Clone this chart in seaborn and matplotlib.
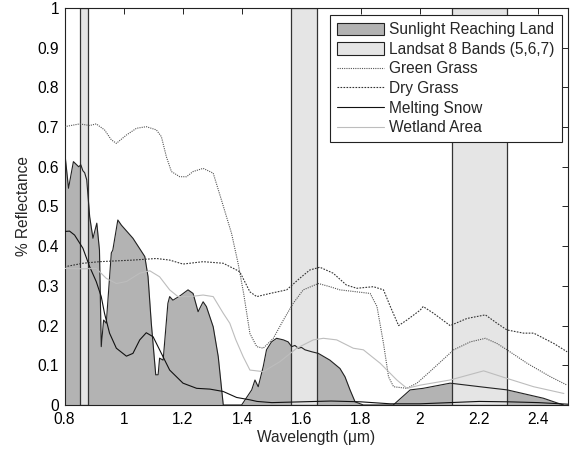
import matplotlib
matplotlib.use("Agg")
import matplotlib.pyplot as plt
import seaborn as sns
import pandas as pd
from matplotlib.patches import Patch
from matplotlib.lines import Line2D

# ---------------- data ----------------
sun_wl = [0.8, 0.8135, 0.830, 0.848, 0.855, 0.862, 0.868, 0.875, 0.885, 0.896, 0.909, 0.918,
          0.924, 0.932, 0.941, 0.958, 0.963, 0.980, 0.992, 1.031, 1.071, 1.082, 1.093, 1.108,
          1.116, 1.121, 1.133, 1.149, 1.155, 1.166, 1.19, 1.217, 1.234, 1.251, 1.268, 1.279,
          1.302, 1.319, 1.336, 1.398, 1.432, 1.443, 1.454, 1.471, 1.482, 1.499, 1.516, 1.539,
          1.555, 1.567, 1.578, 1.589, 1.60, 1.612, 1.635, 1.657, 1.696, 1.730, 1.747, 1.764,
          1.781, 1.809, 1.910, 1.967, 2.011, 2.102, 2.214, 2.295, 2.417, 2.464, 2.485]
sun_val = [0.642, 0.546, 0.613, 0.60, 0.605, 0.59, 0.585, 0.567, 0.474, 0.42, 0.458, 0.39,
           0.147, 0.214, 0.206, 0.383, 0.39, 0.466, 0.453, 0.42, 0.374, 0.323, 0.206, 0.076,
           0.076, 0.118, 0.113, 0.256, 0.273, 0.264, 0.275, 0.29, 0.281, 0.235, 0.26, 0.248,
           0.197, 0.122, 0.0, 0.0, 0.038, 0.063, 0.046, 0.097, 0.139, 0.159, 0.168, 0.164,
           0.159, 0.147, 0.150, 0.143, 0.145, 0.139, 0.134, 0.130, 0.113, 0.092, 0.071, 0.038,
           0.008, 0.0, 0.0, 0.038, 0.042, 0.055, 0.045, 0.038, 0.017, 0.005, 0.0]

band_lo = [0.851, 1.566, 2.107]
band_hi = [0.879, 1.651, 2.294]

green_wl = [0.8, 0.851, 0.885, 0.907, 0.935, 0.958, 0.975, 1.009, 1.043, 1.076, 1.110, 1.127,
            1.144, 1.161, 1.189, 1.212, 1.234, 1.268, 1.302, 1.330, 1.364, 1.386, 1.405, 1.426,
            1.449, 1.471, 1.505, 1.539, 1.572, 1.606, 1.657, 1.696, 1.730, 1.787, 1.832, 1.855,
            1.877, 1.894, 1.911, 1.956, 1.990, 2.035, 2.114, 2.170, 2.221, 2.260, 2.294, 2.362,
            2.441, 2.497]
green_val = [0.701, 0.708, 0.704, 0.708, 0.693, 0.668, 0.659, 0.68, 0.697, 0.701, 0.693, 0.676,
             0.625, 0.588, 0.575, 0.575, 0.588, 0.596, 0.584, 0.516, 0.432, 0.357, 0.28, 0.18,
             0.147, 0.143, 0.168, 0.214, 0.256, 0.29, 0.306, 0.298, 0.29, 0.285, 0.281, 0.248,
             0.155, 0.071, 0.046, 0.042, 0.055, 0.085, 0.139, 0.159, 0.168, 0.155, 0.139, 0.105,
             0.071, 0.05]

dry_wl = [0.8, 0.862, 0.918, 1.031, 1.110, 1.155, 1.200, 1.268, 1.336, 1.381, 1.392, 1.426,
          1.449, 1.494, 1.550, 1.594, 1.628, 1.662, 1.707, 1.752, 1.787, 1.843, 1.877, 1.900,
          1.928, 1.956, 2.001, 2.011, 2.046, 2.102, 2.159, 2.221, 2.260, 2.294, 2.350, 2.384,
          2.452, 2.497]
dry_val = [0.348, 0.357, 0.361, 0.365, 0.369, 0.365, 0.355, 0.361, 0.357, 0.34, 0.335, 0.285,
           0.273, 0.281, 0.29, 0.319, 0.34, 0.347, 0.332, 0.302, 0.294, 0.298, 0.29, 0.248,
           0.2, 0.214, 0.239, 0.248, 0.231, 0.2, 0.218, 0.227, 0.206, 0.189, 0.181, 0.181,
           0.155, 0.134]

snow_wl = [0.8, 0.817, 0.834, 0.862, 0.885, 0.907, 0.924, 0.935, 0.952, 0.975, 1.009, 1.031,
           1.054, 1.076, 1.099, 1.121, 1.155, 1.200, 1.246, 1.291, 1.336, 1.381, 1.426, 1.45,
           1.5, 1.6, 1.7, 1.8, 1.9, 2.0, 2.1, 2.2, 2.3, 2.4, 2.5]
snow_val = [0.437, 0.438, 0.428, 0.395, 0.348, 0.311, 0.273, 0.231, 0.181, 0.143, 0.123, 0.130,
            0.164, 0.182, 0.172, 0.139, 0.088, 0.055, 0.042, 0.040, 0.034, 0.019, 0.013, 0.009,
            0.006, 0.008, 0.010, 0.008, 0.003, 0.003, 0.006, 0.009, 0.008, 0.006, 0.002]

wet_wl = [0.8, 0.862, 0.907, 0.941, 0.975, 1.009, 1.054, 1.088, 1.121, 1.155, 1.183, 1.223,
          1.268, 1.302, 1.336, 1.358, 1.378, 1.403, 1.426, 1.471, 1.527, 1.584, 1.640, 1.674,
          1.719, 1.775, 1.809, 1.866, 1.922, 1.956, 2.001, 2.102, 2.215, 2.294, 2.384, 2.486]
wet_val = [0.344, 0.343, 0.344, 0.319, 0.306, 0.311, 0.332, 0.338, 0.323, 0.29, 0.273, 0.273,
           0.277, 0.273, 0.231, 0.206, 0.165, 0.122, 0.088, 0.084, 0.109, 0.143, 0.164, 0.168,
           0.164, 0.143, 0.139, 0.105, 0.063, 0.042, 0.05, 0.063, 0.086, 0.067, 0.046, 0.029]

x_ticks = [0.8, 1.0, 1.2, 1.4, 1.6, 1.8, 2.0, 2.2, 2.4]
x_labels = ["0.8", "1", "1.2", "1.4", "1.6", "1.8", "2", "2.2", "2.4"]
y_ticks = [0, 0.1, 0.2, 0.3, 0.4, 0.5, 0.6, 0.7, 0.8, 0.9, 1.0]
y_labels = ["0", "0.1", "0.2", "0.3", "0.4", "0.5", "0.6", "0.7", "0.8", "0.9", "1"]

# ---------------- style ----------------
sns.set_theme(style="white")
plt.rcParams['font.family'] = ['Liberation Sans', 'DejaVu Sans']
FS = 11.2
plt.rcParams['font.size'] = FS

fig = plt.figure(figsize=(5.73, 4.51), dpi=100)
ax = fig.add_axes([0.1126, 0.102, 0.8787, 0.8803])

SUN_C = "#b3b3b3"
BAND_C = "#e5e5e5"

ax.fill_between(sun_wl, 0, sun_val, color=SUN_C, linewidth=0, zorder=1)
for lo, hi in zip(band_lo, band_hi):
    ax.axvspan(lo, hi, facecolor=BAND_C, edgecolor="#333333", linewidth=0.9, zorder=2)

sun_df = pd.DataFrame({"wl": sun_wl, "v": sun_val})
sns.lineplot(data=sun_df, x="wl", y="v", ax=ax, color="#222222", linewidth=0.8,
             estimator=None, zorder=3)

series = [
    (green_wl, green_val, "#555555", (0, (1, 1)), 0.8),
    (dry_wl, dry_val, "#333333", (0, (1.5, 1.2)), 0.8),
    (snow_wl, snow_val, "#111111", "-", 0.8),
    (wet_wl, wet_val, "#bdbdbd", "-", 0.8),
]
for wl, val, col, ls, lw in series:
    df = pd.DataFrame({"wl": wl, "v": val})
    sns.lineplot(data=df, x="wl", y="v", ax=ax, color=col, linestyle=ls, linewidth=lw,
                 estimator=None, zorder=4)

ax.set_xlim(0.8, 2.5)
ax.set_ylim(0, 1)
ax.set_xticks(x_ticks)
ax.set_xticklabels(x_labels)
ax.set_yticks(y_ticks)
ax.set_yticklabels(y_labels)
ax.tick_params(direction="in", length=4, width=0.6, top=True, right=True,
               labelsize=FS, colors="black")
ax.tick_params(axis="x", pad=5)
ax.tick_params(axis="y", pad=4)
for s in ax.spines.values():
    s.set_color("#222222")
    s.set_linewidth(0.8)
ax.set_xlabel("Wavelength (\u03bcm)", fontsize=FS, labelpad=2)
ax.set_ylabel("% Reflectance", fontsize=FS, labelpad=5)

handles = [
    Patch(facecolor=SUN_C, edgecolor="#222222", linewidth=0.8, label="Sunlight Reaching Land"),
    Patch(facecolor=BAND_C, edgecolor="#222222", linewidth=0.8, label="Landsat 8 Bands (5,6,7)"),
    Line2D([], [], color="#555555", linestyle=(0, (1, 1)), linewidth=0.8, label="Green Grass"),
    Line2D([], [], color="#333333", linestyle=(0, (1.5, 1.2)), linewidth=0.8, label="Dry Grass"),
    Line2D([], [], color="#111111", linewidth=0.8, label="Melting Snow"),
    Line2D([], [], color="#bdbdbd", linewidth=0.8, label="Wetland Area"),
]
leg = ax.legend(handles=handles, loc="upper right", bbox_to_anchor=(0.9875, 0.982),
                fancybox=False, framealpha=1, edgecolor="#222222", fontsize=FS,
                handlelength=3.0, handleheight=0.85, labelspacing=0.3, borderpad=0.45,
                handletextpad=0.35, borderaxespad=0)
leg.get_frame().set_linewidth(0.8)
leg.set_zorder(10)

fig.savefig("out.png", dpi=100)
